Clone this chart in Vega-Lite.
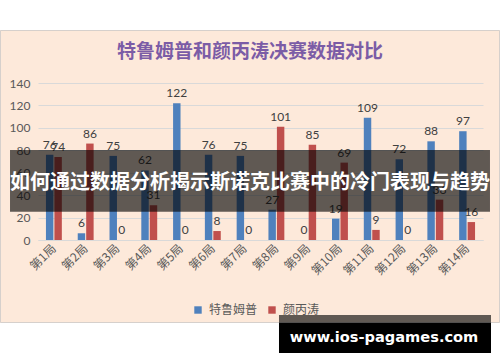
{
  "$schema": "https://vega.github.io/schema/vega-lite/v6.json",
  "width": 445,
  "height": 157,
  "autosize": "none",
  "padding": {"left": 38, "top": 83, "right": 17, "bottom": 122},
  "background": "#FDE9DA",
  "config": {"view": {"stroke": null}, "font": "Noto Sans CJK SC"},
  "data": {
    "values": [
      {"frame": "第1局", "player": "特鲁姆普", "score": 76},
      {"frame": "第1局", "player": "颜丙涛", "score": 74},
      {"frame": "第2局", "player": "特鲁姆普", "score": 6},
      {"frame": "第2局", "player": "颜丙涛", "score": 86},
      {"frame": "第3局", "player": "特鲁姆普", "score": 75},
      {"frame": "第3局", "player": "颜丙涛", "score": 0},
      {"frame": "第4局", "player": "特鲁姆普", "score": 62},
      {"frame": "第4局", "player": "颜丙涛", "score": 31},
      {"frame": "第5局", "player": "特鲁姆普", "score": 122},
      {"frame": "第5局", "player": "颜丙涛", "score": 0},
      {"frame": "第6局", "player": "特鲁姆普", "score": 76},
      {"frame": "第6局", "player": "颜丙涛", "score": 8},
      {"frame": "第7局", "player": "特鲁姆普", "score": 75},
      {"frame": "第7局", "player": "颜丙涛", "score": 0},
      {"frame": "第8局", "player": "特鲁姆普", "score": 27},
      {"frame": "第8局", "player": "颜丙涛", "score": 101},
      {"frame": "第9局", "player": "特鲁姆普", "score": 0},
      {"frame": "第9局", "player": "颜丙涛", "score": 85},
      {"frame": "第10局", "player": "特鲁姆普", "score": 19},
      {"frame": "第10局", "player": "颜丙涛", "score": 69},
      {"frame": "第11局", "player": "特鲁姆普", "score": 109},
      {"frame": "第11局", "player": "颜丙涛", "score": 9},
      {"frame": "第12局", "player": "特鲁姆普", "score": 72},
      {"frame": "第12局", "player": "颜丙涛", "score": 0},
      {"frame": "第13局", "player": "特鲁姆普", "score": 88},
      {"frame": "第13局", "player": "颜丙涛", "score": 36},
      {"frame": "第14局", "player": "特鲁姆普", "score": 97},
      {"frame": "第14局", "player": "颜丙涛", "score": 16}
    ]
  },
  "layer": [
    {
      "encoding": {
        "x": {
          "field": "frame",
          "type": "nominal",
          "sort": null,
          "scale": {"paddingInner": 0.5, "paddingOuter": 0.25},
          "axis": {
            "title": null,
            "labelAngle": -45,
            "labelAlign": "right",
            "labelBaseline": "middle",
            "labelFontSize": 12,
            "labelColor": "#595959",
            "labelFont": "Noto Sans CJK SC",
            "labelPadding": 6,
            "ticks": false,
            "domainColor": "#D9D9D9",
            "grid": false
          }
        },
        "xOffset": {"field": "player", "sort": ["特鲁姆普", "颜丙涛"], "scale": {"paddingInner": 0.12}},
        "y": {
          "field": "score",
          "type": "quantitative",
          "scale": {"domain": [0, 140], "nice": false},
          "axis": {
            "title": null,
            "values": [0, 20, 40, 60, 80, 100, 120, 140],
            "labelFontSize": 12,
            "labelColor": "#595959",
            "labelFont": "Lato",
            "labelPadding": 8,
            "ticks": false,
            "domain": false,
            "gridColor": "#D9D9D9"
          }
        }
      },
      "layer": [
        {
          "mark": {"type": "bar"},
          "encoding": {
            "color": {
              "field": "player",
              "type": "nominal",
              "sort": ["特鲁姆普", "颜丙涛"],
              "scale": {"range": ["#4F81BD", "#C0504D"]},
              "legend": {
                "title": null,
                "orient": "none",
                "direction": "horizontal",
                "legendX": 154,
                "legendY": 221,
                "symbolType": "square",
                "symbolSize": 55,
                "symbolStrokeWidth": 0,
                "labelFontSize": 12,
                "labelColor": "#595959",
                "labelFont": "Noto Sans CJK SC",
                "columnPadding": 8,
                "labelOffset": 5
              }
            }
          }
        },
        {
          "mark": {"type": "text", "baseline": "bottom", "dy": -3, "fontSize": 12, "color": "#404040", "font": "Lato"},
          "encoding": {"text": {"field": "score", "type": "quantitative"}}
        }
      ]
    },
    {
      "data": {"values": [{}]},
      "encoding": {},
      "layer": [
        {
          "mark": {"type": "rect", "fill": "#FFFFFF", "clip": false},
          "encoding": {
            "x": {"datum": -0.1, "type": "quantitative", "scale": {"domain": [0, 1], "nice": false, "zero": false}, "axis": null},
            "x2": {"datum": 1.1},
            "y": {"datum": 230, "type": "quantitative", "scale": {"domain": [0, 140], "nice": false, "zero": false}, "axis": null},
            "y2": {"datum": 187.26}
          }
        },
        {
          "mark": {"type": "rect", "fill": "#FFFFFF", "clip": false},
          "encoding": {
            "x": {"datum": -0.1, "type": "quantitative", "scale": {"domain": [0, 1], "nice": false, "zero": false}, "axis": null},
            "x2": {"datum": 1.1},
            "y": {"datum": -74.01, "type": "quantitative", "scale": {"domain": [0, 140], "nice": false, "zero": false}, "axis": null},
            "y2": {"datum": -130}
          }
        },
        {
          "mark": {"type": "rect", "fill": null, "stroke": "#D6D0CC", "strokeWidth": 1, "clip": false},
          "encoding": {
            "x": {"datum": -0.08427, "type": "quantitative", "scale": {"domain": [0, 1], "nice": false, "zero": false}, "axis": null},
            "x2": {"datum": 1.03708},
            "y": {"datum": 186.8, "type": "quantitative", "scale": {"domain": [0, 140], "nice": false, "zero": false}, "axis": null},
            "y2": {"datum": -73.57}
          }
        },
        {
          "mark": {"type": "text", "color": "#7B5CA6", "fontSize": 19, "fontWeight": "bold", "font": "Noto Sans CJK SC", "align": "center", "baseline": "middle", "clip": false},
          "encoding": {
            "x": {"datum": 0.4764, "type": "quantitative", "scale": {"domain": [0, 1], "nice": false, "zero": false}, "axis": null},
            "y": {"datum": 167.6, "type": "quantitative", "scale": {"domain": [0, 140], "nice": false, "zero": false}, "axis": null},
            "text": {"value": "特鲁姆普和颜丙涛决赛数据对比"}
          }
        },
        {
          "mark": {"type": "rect", "fill": "#000000", "opacity": 0.62, "clip": false},
          "encoding": {
            "x": {"datum": -0.0629, "type": "quantitative", "scale": {"domain": [0, 1], "nice": false, "zero": false}, "axis": null},
            "x2": {"datum": 1.0157},
            "y": {"datum": 80.26, "type": "quantitative", "scale": {"domain": [0, 140], "nice": false, "zero": false}, "axis": null},
            "y2": {"datum": 25.24}
          }
        },
        {
          "mark": {"type": "text", "color": "#FFFFFF", "fontSize": 20, "fontWeight": "bold", "font": "Noto Sans CJK SC", "align": "center", "baseline": "middle", "clip": false},
          "encoding": {
            "x": {"datum": 0.4764, "type": "quantitative", "scale": {"domain": [0, 1], "nice": false, "zero": false}, "axis": null},
            "y": {"datum": 50.8, "type": "quantitative", "scale": {"domain": [0, 140], "nice": false, "zero": false}, "axis": null},
            "text": {"value": "如何通过数据分析揭示斯诺克比赛中的冷门表现与趋势"}
          }
        },
        {
          "mark": {"type": "rect", "fill": "#000000", "opacity": 0.62, "clip": false},
          "encoding": {
            "x": {"datum": 0.54157, "type": "quantitative", "scale": {"domain": [0, 1], "nice": false, "zero": false}, "axis": null},
            "x2": {"datum": 1.01798},
            "y": {"datum": -66.88, "type": "quantitative", "scale": {"domain": [0, 140], "nice": false, "zero": false}, "axis": null},
            "y2": {"datum": -100.77}
          }
        },
        {
          "mark": {"type": "rect", "fill": "#000000", "clip": false},
          "encoding": {
            "x": {"datum": 0.54157, "type": "quantitative", "scale": {"domain": [0, 1], "nice": false, "zero": false}, "axis": null},
            "x2": {"datum": 1.01798},
            "y": {"datum": -74.01, "type": "quantitative", "scale": {"domain": [0, 140], "nice": false, "zero": false}, "axis": null},
            "y2": {"datum": -100.77}
          }
        },
        {
          "mark": {"type": "text", "color": "#FFFFFF", "fontSize": 14.6, "fontWeight": "bold", "font": "DejaVu Sans", "align": "center", "baseline": "middle", "clip": false},
          "encoding": {
            "x": {"datum": 0.7775, "type": "quantitative", "scale": {"domain": [0, 1], "nice": false, "zero": false}, "axis": null},
            "y": {"datum": -87.1, "type": "quantitative", "scale": {"domain": [0, 140], "nice": false, "zero": false}, "axis": null},
            "text": {"value": "www.ios-pagames.com"}
          }
        }
      ]
    }
  ],
  "resolve": {"scale": {"x": "independent", "y": "independent"}}
}
